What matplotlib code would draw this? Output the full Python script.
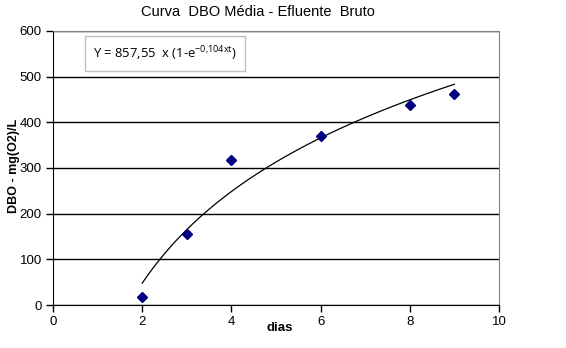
import numpy as np
import matplotlib
matplotlib.use("Agg")
import matplotlib.pyplot as plt

dias = [2, 3, 4, 6, 8, 9]
dbo = [18, 155, 317, 370, 438, 462]
equacao = r"Y = 857,55  x (1-e$^{\mathregular{-0{,}104xt}}$)"

FONT = ["Liberation Sans", "DejaVu Sans"]

W, H = 566, 348
fig = plt.figure(figsize=(W / 100, H / 100), dpi=100)
ax = fig.add_axes([53 / W, 1 - 305 / H, (499 - 53) / W, (305 - 31) / H])

# logarithmic trendline (Excel style) from the data
a, b = np.polyfit(np.log(dias), dbo, 1)
xt = np.linspace(min(dias), max(dias), 200)
ax.plot(xt, a * np.log(xt) + b, color="black", lw=0.9, zorder=3)

ax.plot(dias, dbo, linestyle="none", marker="D", ms=5.5, color="#000080",
        zorder=4)

ax.set_xlim(0, 10)
ax.set_ylim(0, 600)
ax.set_xticks(range(0, 11, 2))
ax.set_yticks(range(0, 601, 100))
ax.grid(axis="y", color="black", lw=1)
ax.set_axisbelow(True)
ax.tick_params(direction="out", length=5, width=1, labelsize=9.5,
               colors="black", pad=3)
for lab in ax.get_xticklabels() + ax.get_yticklabels():
    lab.set_family(FONT)
for s in ["top", "right"]:
    ax.spines[s].set_color("#808080")
for s in ["left", "bottom"]:
    ax.spines[s].set_color("black")

fig.text(258 / W, 1 - 12 / H, "Curva  DBO Média - Efluente  Bruto",
         ha="center", va="center", fontsize=10.5, family=FONT)
fig.text(280 / W, 1 - 328 / H, "dias", ha="center", va="center",
         fontsize=9.5, fontweight="bold", family=FONT)
fig.text(14 / W, 1 - 166 / H, "DBO - mg(O2)/L", ha="center", va="center",
         rotation=90, fontsize=9, fontweight="bold", family=FONT)

ax.text(0.0897, 0.918, equacao, transform=ax.transAxes, ha="left",
        va="center", fontsize=9.4, family="Open Sans",
        bbox=dict(boxstyle="square,pad=0.6", fc="white", ec="#c0c0c0",
                  lw=1))

fig.savefig("out.png", dpi=100)
